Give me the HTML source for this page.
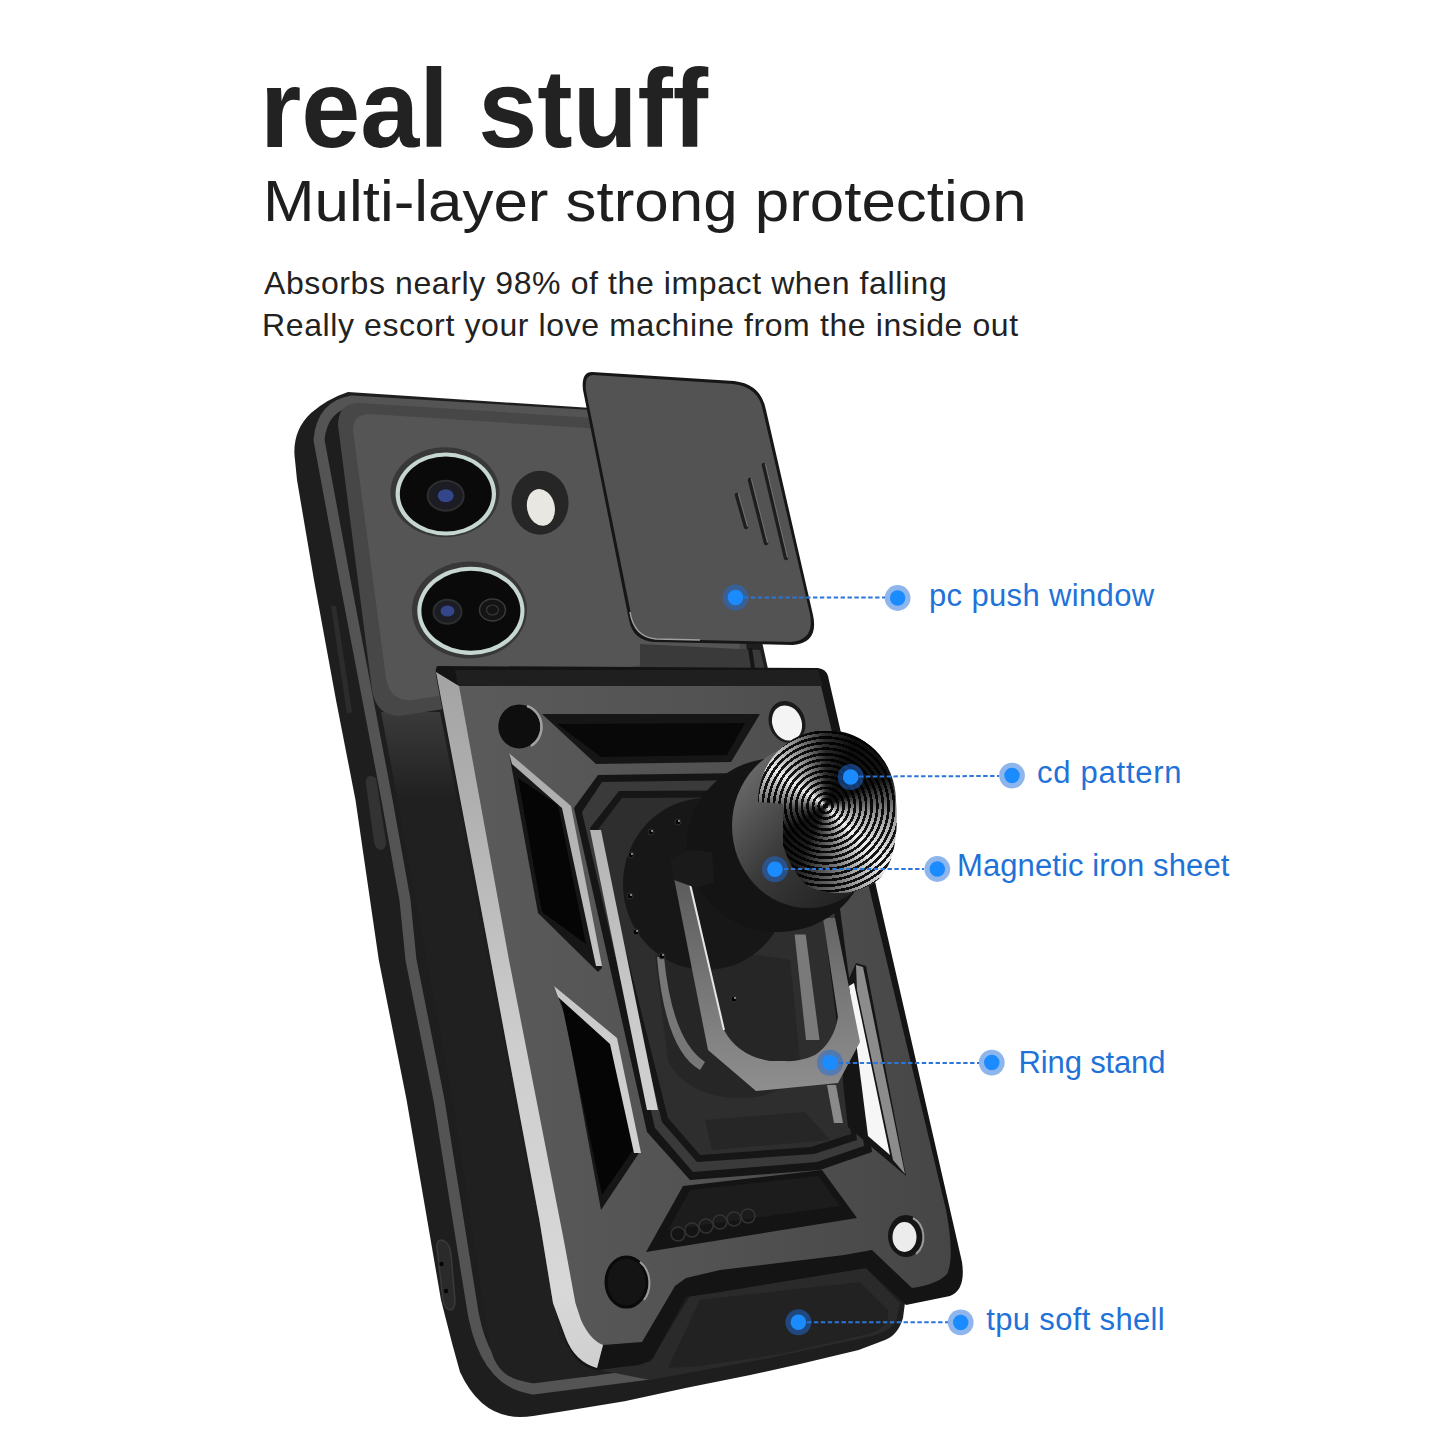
<!DOCTYPE html>
<html><head><meta charset="utf-8">
<style>
html,body{margin:0;padding:0;background:#fff;}
body{width:1445px;height:1445px;position:relative;overflow:hidden;font-family:"Liberation Sans",sans-serif;}
.t{position:absolute;white-space:nowrap;line-height:1;margin:0;}
#h1{left:259.5px;top:54px;font-size:111px;font-weight:bold;color:#222;transform-origin:0 0;transform:scaleX(0.956);}
#h2{left:263px;top:172px;font-size:58px;color:#1e1e1e;transform-origin:0 0;transform:scaleX(1.067);}
#p1{left:264px;top:267px;font-size:32px;color:#222;letter-spacing:0.6px;}
#p2{left:262px;top:309px;font-size:32px;color:#222;letter-spacing:0.61px;}
.lb{position:absolute;white-space:nowrap;line-height:1;font-size:31px;color:#1f72d8;}
svg{position:absolute;left:0;top:0;}
#cd{position:absolute;left:757px;top:731px;width:140px;height:162px;
clip-path:path('M1,71 A69,71 0 0 1 139,69 C141,95 140,130 122,148 C110,158 95,162 82,162 C68,162 56,158 50,154.5 C38,143 30,128 26,114 L26,73 Z');
background:repeating-radial-gradient(circle at 68.6px 75px, rgba(0,0,0,0.9) 0 2.6px, rgba(0,0,0,0) 2.6px 5.6px),
conic-gradient(from 0deg at 68.6px 75px, #2a2a2a 0deg, #0e0e0e 25deg, #141414 65deg, #9a9a9a 100deg, #f2f2f2 135deg, #777 170deg, #1a1a1a 205deg, #101010 235deg, #444 265deg, #eeeeee 305deg, #888 335deg, #2a2a2a 360deg);}
</style></head>
<body>
<div class="t" id="h1">real stuff</div>
<div class="t" id="h2">Multi-layer strong protection</div>
<div class="t" id="p1">Absorbs nearly 98% of the impact when falling</div>
<div class="t" id="p2">Really escort your love machine from the inside out</div>
<svg width="1445" height="1445" viewBox="0 0 1445 1445">
<defs>
<linearGradient id="gBack" x1="0" y1="712" x2="0" y2="800" gradientUnits="userSpaceOnUse"><stop offset="0" stop-color="#3a3a3a"/><stop offset="1" stop-color="#202020"/></linearGradient>
<linearGradient id="gArmor" x1="480" y1="0" x2="950" y2="0" gradientUnits="userSpaceOnUse"><stop offset="0" stop-color="#5a5a5a"/><stop offset="0.5" stop-color="#525252"/><stop offset="1" stop-color="#464646"/></linearGradient>
<linearGradient id="gSilver" x1="0" y1="680" x2="0" y2="1360" gradientUnits="userSpaceOnUse"><stop offset="0" stop-color="#a4a4a4"/><stop offset="0.18" stop-color="#b0b0b0"/><stop offset="0.53" stop-color="#cdcdcd"/><stop offset="0.9" stop-color="#d8d8d8"/><stop offset="1" stop-color="#d0d0d0"/></linearGradient>
<linearGradient id="gRing" x1="0" y1="870" x2="0" y2="1090" gradientUnits="userSpaceOnUse"><stop offset="0" stop-color="#5a5a5a"/><stop offset="0.6" stop-color="#7a7a7a"/><stop offset="1" stop-color="#8e8e8e"/></linearGradient>
<linearGradient id="gCyl" x1="735" y1="770" x2="880" y2="900" gradientUnits="userSpaceOnUse"><stop offset="0" stop-color="#6e6e6e"/><stop offset="0.45" stop-color="#3a3a3a"/><stop offset="1" stop-color="#1a1a1a"/></linearGradient>
</defs>
<!-- case body -->
<path d="M348,392 L698,415 Q713,417 716,433 L906,1295 L903,1318 Q898,1335 885,1340 L858.7,1350 L800,1364 L749,1375.3 L686.8,1387.7 L624.6,1401.2 L562,1411.6 L533,1416 Q484,1424 460,1372 L452,1343 L441,1300 L406.6,1100 L378.8,960 L355.5,800 L336,700 L314,580 L297,480 L294.5,455 Q293,430 311,413 Q327,399 348,392 Z" fill="#1e1e1e"/>
<!-- side stripe -->
<path d="M600,416 L352,401 Q322,406 319,440 L345,580 L387,800 L405,900 L411,960 L439,1100 L471,1300 Q482,1382 533,1389 L650,1374" fill="none" stroke="#545454" stroke-width="11" stroke-linejoin="round"/>
<path d="M437,1248 Q436,1240 442,1240 L446,1242 Q450,1246 451,1254 L455,1300 Q455,1310 450,1310 Q444,1308 443,1300 Z" fill="#2a2a2a" stroke="#3a3a3a" stroke-width="1.5"/>
<circle cx="441.5" cy="1264" r="2.2" fill="#050505"/><circle cx="446" cy="1291" r="2.2" fill="#050505"/>
<path d="M331,606 L336,606 L352,712 L347,714 Z" fill="#2c2c2c"/>
<path d="M366,784 Q365,775 372,776 L376,778 L386,842 Q386,850 380,850 Q375,848 374,842 Z" fill="#333"/>
<!-- case back bottom (tpu) -->
<path d="M600,1370 L650,1362 L690,1296 L866,1268 L900,1303 L896,1322 Q888,1333 868,1337 L770,1358 L650,1380 Z" fill="#2a2a2a"/>
<path d="M700,1300 L860,1282 L888,1310 Q890,1328 868,1334 L780,1354 L700,1366 L668,1368 Z" fill="#222"/>
<!-- case back (left of armor) -->
<path d="M381,712 L440,712 L560,1340 L600,1375 L530,1382 Q496,1380 490,1345 L453,1100 L397.6,800 Z" fill="url(#gBack)"/>
<!-- camera frame -->
<path d="M338,425 Q338,403 360,403 L720,426 L748,660 L400,716 Q376,716 372,690 Z" fill="#474747"/>
<!-- camera plate -->
<path d="M353,430 Q353,414 370,414 L712,436 L740,650 L412,700 Q390,702 386,678 Z" fill="#555"/>
<!-- lens 1 -->
<ellipse cx="445" cy="492.3" rx="54.5" ry="45" fill="#383838"/>
<ellipse cx="445.8" cy="494" rx="50.2" ry="41.5" fill="#c6d6d0"/>
<ellipse cx="445.8" cy="494" rx="46" ry="37.5" fill="#0a0a0a"/>
<ellipse cx="445.7" cy="495.7" rx="18" ry="15" fill="#1c1c24" stroke="#2e2e2e" stroke-width="2"/>
<ellipse cx="445.7" cy="495.7" rx="8" ry="6.5" fill="#34468a"/>
<!-- lens 2 -->
<ellipse cx="469.5" cy="610" rx="57.5" ry="48.5" fill="#383838"/>
<ellipse cx="470.9" cy="610.8" rx="53.6" ry="44.1" fill="#c6d6d0"/>
<ellipse cx="470.9" cy="610.8" rx="49.5" ry="40" fill="#0a0a0a"/>
<ellipse cx="447.5" cy="611.7" rx="14" ry="12" fill="#1c1c24" stroke="#2e2e2e" stroke-width="2"/>
<ellipse cx="447.5" cy="611" rx="7" ry="5.5" fill="#34468a"/>
<ellipse cx="492.5" cy="610" rx="13" ry="11" fill="#141414" stroke="#3a3a3a" stroke-width="1.5"/>
<ellipse cx="492.5" cy="610" rx="6" ry="5" fill="none" stroke="#3a3a3a" stroke-width="1.2"/>
<!-- flash -->
<ellipse cx="540" cy="502.7" rx="28.5" ry="32" fill="#262626"/>
<ellipse cx="540.9" cy="507.4" rx="13.8" ry="18.6" transform="rotate(-12 540.9 507.4)" fill="#e9e7e2"/>
<!-- slide cover -->
<path d="M592,372 L734,381 Q761,384 766,410 L813,615 Q819,643 793,645 L655,642 Q633,641 629,620 L583,390 Q581,372 592,372 Z" fill="#161616"/>
<path d="M593,375 L733,384 Q759,387 763,411 L810,614 Q815,640 791,642 L656,639 Q636,638 632,619 L586,391 Q584,375 593,375 Z" fill="#535353"/>
<path d="M630,612 Q634,637 656,639 L700,640" fill="none" stroke="#a0a0a0" stroke-width="1.5"/>
<path d="M737,495 L746,527 M750,480 L766,543 M764,465 L786,558" stroke="#1e1e1e" stroke-width="4.5" stroke-linecap="round"/>
<path d="M738.5,494 L747.5,526 M751.5,479 L767.5,542 M765.5,464 L787.5,557" stroke="#707070" stroke-width="1.3" stroke-linecap="round"/>
<!-- track visible below slide -->
<path d="M640,644 L760,650 L766,675 L640,675 Z" fill="#3a3a3a"/>
<path d="M748,648 L752,648 L756,675 L752,675 Z" fill="#151515"/>
<!-- ARMOR -->
<path d="M438,666 L818,668 Q826,669 828,676 L962,1262 Q966,1290 950,1296 L906,1305 L866,1268 L720,1292 L686,1297 L653,1358 Q645,1365 630,1366 L597,1370 Q572,1366 562,1330 L436,676 Q435,666 438,666 Z" fill="#141414"/>
<path d="M440,686 L821,686 L946,1210 Q955,1258 947,1274 Q938,1284 912,1288 L872,1250 L844,1255 L720,1270 L686,1278 L675,1286 L642,1342 L603,1345 L597,1368 Q575,1362 565.7,1337.6 L553,1303 L539.4,1220 L487,940 Z" fill="url(#gArmor)"/>
<!-- top rim band -->
<path d="M455,670 L818,670 L823,686 L458,686 Z" fill="#1f1f1f"/>
<!-- main left silver stripe -->
<path d="M436,672 L459,686 L509,960 L563.8,1240 L575.4,1303 L581,1320 Q590,1340 603,1345 L597,1368 Q575,1362 565.7,1337.6 L553,1303 L539.4,1220 L487,940 Z" fill="url(#gSilver)"/>
<!-- upper-left hole -->
<ellipse cx="519.3" cy="726.4" rx="21" ry="22" fill="#0e0e0e"/>
<path d="M527,706 A21,22 0 0 1 531,746" fill="none" stroke="#a0a0a0" stroke-width="2.5"/>
<!-- upper center recess -->
<path d="M542,714 L760,714 L731,762 L596,764 Z" fill="#161616"/>
<path d="M557,724 L745,723 L727,755 L601,757 Z" fill="#080808"/>
<!-- upper-right hole (white) -->
<ellipse cx="787" cy="722" rx="18" ry="21.5" transform="rotate(-22 787 722)" fill="#1a1a1a"/>
<ellipse cx="787" cy="723" rx="14.5" ry="18" transform="rotate(-22 787 723)" fill="#f4f4f4"/>
<!-- left upper window -->
<path d="M509,753 L566,806 L602,968 L598,972 L538,913 Z" fill="#161616"/>
<path d="M518,778 L558,805 L586,944 L542,912 Z" fill="#050505"/>
<path d="M509,753 L571,806 L602,966 L596,966 L562,808 L512,764 Z" fill="url(#gSilver)"/>
<!-- left lower window -->
<path d="M554,986 L615,1040 L639,1153 L601,1210 L565,1015 Z" fill="#161616"/>
<path d="M561,1000 L611,1042 L633,1150 L602,1195 Z" fill="#050505"/>
<path d="M554,986 L617,1038 L641,1153 L634,1153 L610,1044 L558,997 Z" fill="url(#gSilver)"/>
<!-- octagon frame -->
<path d="M574,808 L598,775 L822,772 L872,1152 L820,1170 L690,1180 L647,1132 Z" fill="#151515"/>
<path d="M582,812 L602,782 L817,779 L864,1146 L817,1162 L693,1172 L655,1128 Z" fill="#3a3a3a"/>
<path d="M590,828 L619,791 L812,790 L857,1140 L814,1154 L697,1162 L662,1122 Z" fill="#161616"/>
<path d="M596,832 L622,798 L808,797 L851,1134 L811,1147 L700,1155 L668,1118 Z" fill="#2e2e2e"/>
<!-- inner silver stripe -->
<path d="M590,830 L601,830 L658,1110 L647,1110 Z" fill="url(#gSilver)"/>
<!-- octagon lower steps -->
<path d="M705,1120 L805,1112 L830,1140 L712,1150 Z" fill="#262626"/>
<!-- mag plate -->
<path d="M655,955 Q700,945 790,960 L800,1060 Q790,1098 740,1098 Q690,1098 668,1062 Z" fill="#262626"/>
<ellipse cx="706" cy="884" rx="83" ry="86" fill="#171717"/>
<path d="M657,957 Q665,1050 700,1070 L705,1062 Q672,1040 664,957 Z" fill="#777"/>
<g fill="#050505" stroke="#3a3a3a" stroke-width="0.8"><circle cx="631" cy="855" r="3"/><circle cx="651" cy="832" r="3"/><circle cx="678" cy="822" r="3"/><circle cx="630" cy="896" r="3"/><circle cx="636" cy="932" r="3"/><circle cx="662" cy="956" r="3"/><circle cx="734" cy="999" r="3"/></g>
<g fill="#bbb"><circle cx="632" cy="854" r="0.9"/><circle cx="652" cy="831" r="0.9"/><circle cx="679" cy="821" r="0.9"/><circle cx="631" cy="895" r="0.9"/><circle cx="637" cy="931" r="0.9"/><circle cx="663" cy="955" r="0.9"/><circle cx="735" cy="998" r="0.9"/></g>
<!-- right white window + silver -->
<path d="M856,963 L866,966 L906,1176 L848,1127 L843,1083 L847,983 Z" fill="#151515"/>
<path d="M849,986 L854,983 L890,1155 L868,1136 Z" fill="#f6f6f6"/>
<path d="M856,965 L863,967 L905,1174 L893,1160 L857,990 Z" fill="#8c8c8c"/>
<path d="M794.6,934.6 L805.7,934.6 L819.5,1040 L806,1040 Z" fill="#7a7a7a"/>
<path d="M827,1085 L836,1085 L843,1123 L834,1123 Z" fill="#8a8a8a"/>
<!-- hex recess -->
<path d="M683,1186 L822,1170 L857,1218 L646,1252 Z" fill="#141414"/>
<path d="M690,1190 L818,1176 L840,1206 L668,1230 Z" fill="#1c1c1c"/>
<g fill="none" stroke="#333" stroke-width="1.5"><circle cx="678" cy="1234" r="7"/><circle cx="692" cy="1230" r="7"/><circle cx="706" cy="1226" r="7"/><circle cx="720" cy="1222" r="7"/><circle cx="734" cy="1219" r="7"/><circle cx="748" cy="1216" r="7"/></g>
<!-- bottom holes -->
<ellipse cx="626.5" cy="1282" rx="20.5" ry="25" fill="#141414" stroke="#0a0a0a" stroke-width="3"/>
<path d="M640,1262 A20.5,25 0 0 1 644,1300" fill="none" stroke="#9a9a9a" stroke-width="2"/>
<ellipse cx="906" cy="1236" rx="18" ry="21" fill="#151515"/>
<ellipse cx="904.5" cy="1237" rx="12" ry="15" fill="#ececec"/>
<path d="M913,1218 A18,21 0 0 1 916,1254" fill="none" stroke="#999" stroke-width="2"/>
<!-- ring -->
<path d="M673,873 L708,1050 L756,1091 L838,1083 L860,1042 L835,918 L823,918 L838,1017 Q834,1042 815,1055 Q800,1062 785,1061 L770,1061 Q738,1056 724,1030 L688,870 Z" fill="url(#gRing)"/>
<path d="M689,880 L724,1030" fill="none" stroke="#e6e6e6" stroke-width="2"/>
<!-- holder base -->
<ellipse cx="778" cy="845" rx="91" ry="87" fill="#141414"/>
<path d="M670,860 L690,850 L712,852 L714,882 L696,888 L674,880 Z" fill="#1a1a1a"/>
<ellipse cx="808" cy="826" rx="76" ry="82" fill="url(#gCyl)"/>

</svg>
<div id="cd"></div>
<svg width="1445" height="1445" viewBox="0 0 1445 1445">
<g stroke-width="2" stroke-dasharray="4.4 2.5" fill="none">
<line x1="744" y1="597.5" x2="885" y2="597.5" stroke="#2b76d8"/>
<line x1="859" y1="776.5" x2="999" y2="776" stroke="#2b76d8"/>
<line x1="784" y1="869" x2="924" y2="869" stroke="#2b76d8"/>
<line x1="839" y1="1063" x2="979" y2="1063" stroke="#2b76d8"/>
<line x1="807" y1="1322.3" x2="948" y2="1322.3" stroke="#2b76d8"/>
</g>
<g fill="rgba(30,110,220,0.5)">
<circle cx="735.5" cy="597.5" r="13"/><circle cx="850.7" cy="777" r="13"/><circle cx="775" cy="869.3" r="13"/><circle cx="830" cy="1062.8" r="13"/><circle cx="798.4" cy="1322.3" r="13"/>
<circle cx="897.6" cy="598" r="12.9"/><circle cx="1012" cy="775.6" r="12.9"/><circle cx="937.3" cy="869" r="12.9"/><circle cx="991.8" cy="1062.6" r="12.9"/><circle cx="960.7" cy="1322.4" r="12.9"/>
</g>
<g fill="#1a8cff">
<circle cx="735.5" cy="597.5" r="7.8"/><circle cx="850.7" cy="777" r="7.8"/><circle cx="775" cy="869.3" r="7.8"/><circle cx="830" cy="1062.8" r="7.8"/><circle cx="798.4" cy="1322.3" r="7.8"/>
<circle cx="897.6" cy="598" r="7.75"/><circle cx="1012" cy="775.6" r="7.75"/><circle cx="937.3" cy="869" r="7.75"/><circle cx="991.8" cy="1062.6" r="7.75"/><circle cx="960.7" cy="1322.4" r="7.75"/>
</g>

</svg>

<div class="lb" style="left:929px;top:580px;letter-spacing:0.35px;">pc push window</div>
<div class="lb" style="left:1037px;top:757px;letter-spacing:0.75px;">cd pattern</div>
<div class="lb" style="left:957px;top:850px;letter-spacing:0.1px;">Magnetic iron sheet</div>
<div class="lb" style="left:1018.6px;top:1047px;letter-spacing:-0.15px;">Ring stand</div>
<div class="lb" style="left:986.3px;top:1304px;letter-spacing:0.33px;">tpu soft shell</div>
</body></html>
